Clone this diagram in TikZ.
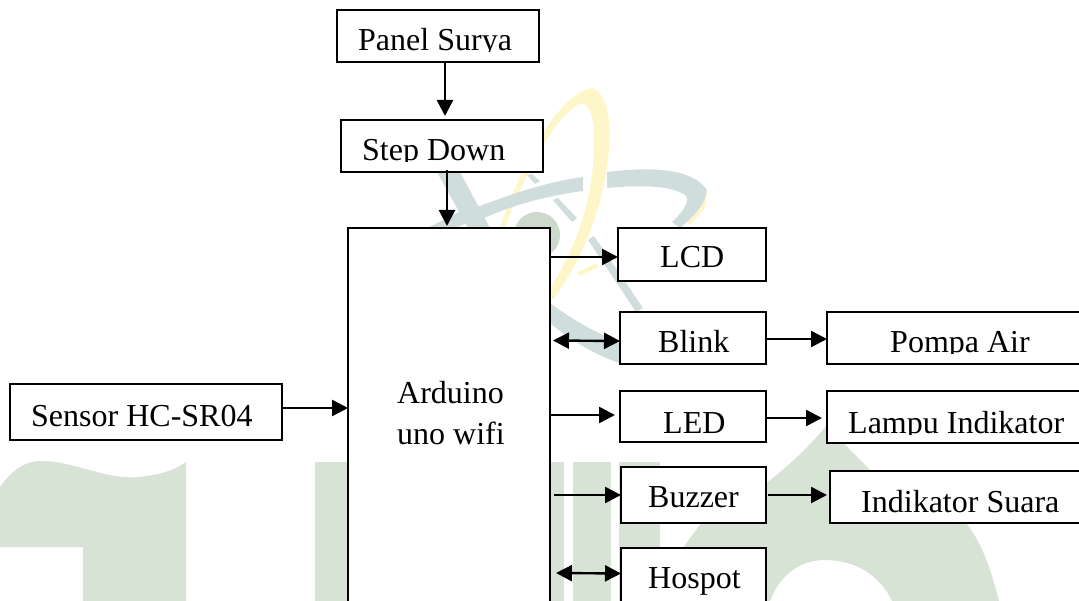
\documentclass[tikz,border=0pt]{standalone}
\usepackage{fontspec}
\setmainfont{Liberation Serif}
\usetikzlibrary{arrows.meta,calc}
\definecolor{wmgreen}{HTML}{D7E3D5}
\definecolor{wmteal}{HTML}{CFDEDD}
\definecolor{wmyellow}{HTML}{FDF6C9}
\definecolor{wmglobe}{HTML}{CBDACB}
\tikzset{
  box/.style={draw=black,line width=1.8pt,fill=white,inner sep=0pt,outer sep=0pt,anchor=north west},
  lbl/.style={anchor=base west,inner sep=0pt,font=\fontsize{32}{36}\selectfont},
  arr/.style={line width=2.4pt,-{Triangle[length=16pt,width=16pt]}},
  dbl/.style={line width=2.4pt,{Triangle[length=16pt,width=16pt]}-{Triangle[length=16pt,width=16pt]}}
}
\newcommand{\clippedlabel}[5]{% name, x, baseline, clip bottom, text
  \begin{scope}
    \clip (#2-5,#4-40) rectangle (#2+300,#4);
    \node[lbl] (#1) at (#2,#3) {#5};
  \end{scope}}
\begin{document}
\begin{tikzpicture}[x=1pt,y=-1pt]
\useasboundingbox (0,0) rectangle (1079,601);
\clip (0,0) rectangle (1079,601);
% watermark: letters
\fill[wmgreen] (0,487) .. controls (12,470) and (25,461) .. (41,461)
  .. controls (75,461) and (105,480) .. (138,477)
  .. controls (160,475) and (175,470) .. (186,462)
  -- (186,601) -- (83,601) -- (83,547) -- (0,547) -- cycle;
\fill[wmgreen] (315,462) rectangle (350,601);
\fill[wmgreen] (550,462) rectangle (564,601);
\fill[wmgreen] (573,462) rectangle (611,601);
\fill[wmgreen] (619,462) rectangle (660,601);
\fill[wmgreen,even odd rule] (827,425) .. controls (790,470) and (740,505) .. (700,525)
  .. controls (680,550) and (665,575) .. (660,601)
  -- (999,601) .. controls (990,565) and (980,540) .. (966,523)
  .. controls (930,500) and (895,490) .. (870,470) .. controls (855,455) and (840,440) .. (827,425) -- cycle
  (770,601) .. controls (780,575) and (800,560) .. (825,560)
  .. controls (855,560) and (880,575) .. (892,601) -- cycle;
% watermark: emblem
\fill[wmyellow] (592,88) .. controls (606,92) and (612,120) .. (609,150)
  .. controls (604,205) and (585,255) .. (553,300)
  -- (547,293) .. controls (575,250) and (592,205) .. (594,150)
  .. controls (595,125) and (592,108) .. (583,103)
  .. controls (560,110) and (530,160) .. (505,227)
  -- (500,227) .. controls (520,170) and (555,95) .. (592,88) -- cycle;
\fill[wmyellow] (577,272) -- (597,263) -- (598,267) -- (580,276) -- cycle;
\fill[wmyellow] (680,217) -- (690,207) -- (707,193) -- (705,208) -- (690,225) -- cycle;
\fill[wmglobe] (537,235) circle[radius=23];
\fill[wmteal] (437,172) -- (460,172) -- (490,228) -- (468,228) -- cycle;
\fill[wmteal] (427,228) -- (463,210) -- (470,222) -- (455,228) -- cycle;
\fill[wmteal] (477,207) .. controls (510,195) and (545,182) .. (583,177)
  -- (583,191) .. controls (545,196) and (510,206) .. (482,219) -- cycle;
\fill[wmteal] (607,172) .. controls (640,168) and (690,165) .. (707,190)
  .. controls (705,205) and (695,215) .. (680,228)
  -- (672,222) .. controls (685,210) and (690,200) .. (685,195)
  .. controls (670,185) and (640,185) .. (607,188) -- cycle;
\fill[wmteal] (527,175) -- (532,174) -- (540,181) -- (535,184) -- cycle;
\fill[wmteal] (553,200) -- (558,198) -- (577,218) -- (572,222) -- cycle;
\fill[wmteal] (588,240) -- (594,236) -- (643,308) -- (636,312) -- cycle;
\fill[wmteal] (550,303) .. controls (570,318) and (595,333) .. (622,343)
  -- (622,364) .. controls (595,355) and (570,340) .. (550,323) -- cycle;
% boxes
\node[box,minimum width=202pt,minimum height=52pt] (panel) at (337,10) {};
\node[box,minimum width=202pt,minimum height=52pt] (stepdown) at (341,120) {};
\node[box,minimum width=202pt,minimum height=392pt] (arduino) at (348,228) {};
\node[box,minimum width=148pt,minimum height=53pt] (lcd) at (618,228) {};
\node[box,minimum width=146pt,minimum height=52pt] (blink) at (620,312) {};
\node[box,minimum width=260pt,minimum height=52pt] (pompa) at (827,312) {};
\node[box,minimum width=146pt,minimum height=51pt] (led) at (620,391) {};
\node[box,minimum width=260pt,minimum height=52pt] (lampu) at (827,391) {};
\node[box,minimum width=145pt,minimum height=56pt] (buzzer) at (621,467) {};
\node[box,minimum width=260pt,minimum height=52pt] (indikator) at (830,471) {};
\node[box,minimum width=145pt,minimum height=70pt] (hospot) at (621,548) {};
\node[box,minimum width=272pt,minimum height=56pt] (sensor) at (10,384) {};
% labels
\clippedlabel{tpanel}{358}{51}{52}{Panel Surya}
\clippedlabel{tstep}{362}{161}{162}{Step Down}
\node[lbl] (tlcd) at (660,268) {LCD};
\clippedlabel{tblink}{658}{353}{354}{Blink}
\clippedlabel{tpompa}{890}{353}{354}{Pompa Air}
\node[lbl] (tled) at (663,433) {LED};
\clippedlabel{tlampu}{848}{433}{434}{Lampu Indikator}
\node[lbl] (tbuzzer) at (648,507) {Buzzer};
\node[lbl] (tindikator) at (861,512) {Indikator Suara};
\node[lbl] (thospot) at (648,588) {Hospot};
\node[lbl] (tsensor) at (31,427) {Sensor HC-SR04};
\node[lbl] (tard1) at (397,404) {Arduino};
\node[lbl] (tard2) at (397,444) {uno wifi};
% connectors
\draw[arr] ($(panel.south)+(7,0)$) -- ($(stepdown.north)+(3,-4)$);
\draw[arr] ($(stepdown.south)+(5,-2)$) -- ($(arduino.north)+(-2,-2)$);
\draw[arr] ($(arduino.east |- lcd.west)+(1,2.5)$) -- ($(lcd.west)+(0,2.5)$);
\draw[dbl] ($(arduino.east |- blink.west)+(3,2.5)$) -- ($(blink.west)+(0,3)$);
\draw[arr] ($(blink.east)+(1,1)$) -- ($(pompa.west)+(0,1)$);
\draw[arr] ($(arduino.east |- led.west)+(-1,-1.5)$) -- ($(led.west)+(-5,-1.5)$);
\draw[arr] ($(led.east)+(0,1.5)$) -- ($(lampu.west)+(-5,1)$);
\draw[arr] ($(arduino.east |- buzzer.west)+(4,0)$) -- (buzzer.west);
\draw[arr] ($(buzzer.east)+(2,0)$) -- ($(indikator.west)+(-3,-2)$);
\draw[dbl] ($(arduino.east |- hospot.west)+(6,-10)$) -- ($(hospot.west)+(0,-9.5)$);
\draw[arr] ($(sensor.east)+(0,-4)$) -- ($(arduino.west |- sensor.east)+(0,-4)$);
\end{tikzpicture}
\end{document}
